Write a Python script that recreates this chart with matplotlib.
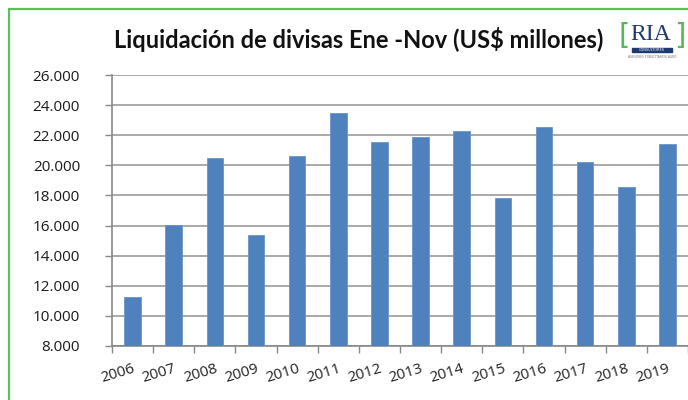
import matplotlib.pyplot as plt
from matplotlib.patches import Rectangle
from matplotlib.ticker import FuncFormatter
import numpy as np

# Liquidacion de divisas Ene-Nov, US$ millones
years = ['2006', '2007', '2008', '2009', '2010', '2011', '2012',
         '2013', '2014', '2015', '2016', '2017', '2018', '2019']
values = [11260, 16010, 20500, 15390, 20610, 23490, 21540,
          21920, 22300, 17810, 22560, 20230, 18540, 21430]

fig = plt.figure(figsize=(6.88, 4.0), dpi=100)
ax = fig.add_axes([112 / 688, 1 - 345.7 / 400, 1 - 112 / 688, (345.7 - 75.3) / 400])

x = np.arange(len(years))
ax.bar(x, values, width=0.40, color='#4f81bd', edgecolor='#6a95c9', linewidth=0.6, zorder=3)

ax.set_ylim(8000, 26000)
ax.set_xlim(-0.5, len(years) - 0.5)
ax.set_yticks(range(8000, 26001, 2000))
ax.yaxis.set_major_formatter(FuncFormatter(lambda v, p: f'{int(v):,}'.replace(',', '.')))
ax.grid(axis='y', color='#a3a3a3', linewidth=1.3, zorder=0)

# labels under the bars, tick marks between categories
ax.set_xticks(x)
ax.set_xticklabels(years, rotation=17, ha='right', rotation_mode='anchor',
                   fontsize=11, fontfamily='Open Sans', color='#222222')
ax.set_xticks(np.arange(-0.5, len(years), 1), minor=True)
ax.tick_params(axis='x', which='major', length=0, pad=11)
ax.tick_params(axis='x', which='minor', length=5, color='#888888', width=1)
ax.tick_params(axis='y', length=5, color='#888888', width=1, pad=18,
               labelsize=11, labelcolor='#1a1a1a')
for lab in ax.get_yticklabels():
    lab.set_fontfamily('Open Sans')

for s in ['top', 'right']:
    ax.spines[s].set_visible(False)
for s in ['left', 'bottom']:
    ax.spines[s].set_color('#888888')
    ax.spines[s].set_linewidth(1.2)

fig.text(359 / 688, 1 - 40 / 400, 'Liquidación de divisas Ene -Nov (US$ millones)',
         ha='center', va='center', fontsize=17, fontweight='bold',
         fontfamily='Lato', color='#111111')

# RIA logo
fig.text(651 / 688, 1 - 34 / 400, 'RIA', ha='center', va='center', fontsize=17,
         fontfamily='Liberation Serif', color='#1f3a6e')
fig.text(624 / 688, 1 - 36 / 400, '[', ha='center', va='center', fontsize=21,
         fontfamily='DejaVu Sans', color='#5bb55b')
fig.text(680 / 688, 1 - 36 / 400, ']', ha='center', va='center', fontsize=21,
         fontfamily='DejaVu Sans', color='#5bb55b')
fig.patches.append(Rectangle((632 / 688, 1 - 52 / 400), 40 / 688, 4 / 400,
                             transform=fig.transFigure, color='#1f3a6e'))
fig.text(652 / 688, 1 - 50 / 400, 'CONSULTORES', ha='center', va='center',
         fontsize=2.5, color='white')
fig.text(652 / 688, 1 - 57 / 400, 'ASESORES PUBLICITARIOS AGRO', ha='center',
         va='center', fontsize=2.2, color='#777777')

# green frame around the chart
fig.patches.append(Rectangle((9 / 688, -0.1), 1.2, 1 - 9 / 400 + 0.1,
                             transform=fig.transFigure, fill=False,
                             edgecolor='#58c458', linewidth=1.6))

fig.savefig('out.png', dpi=100)
